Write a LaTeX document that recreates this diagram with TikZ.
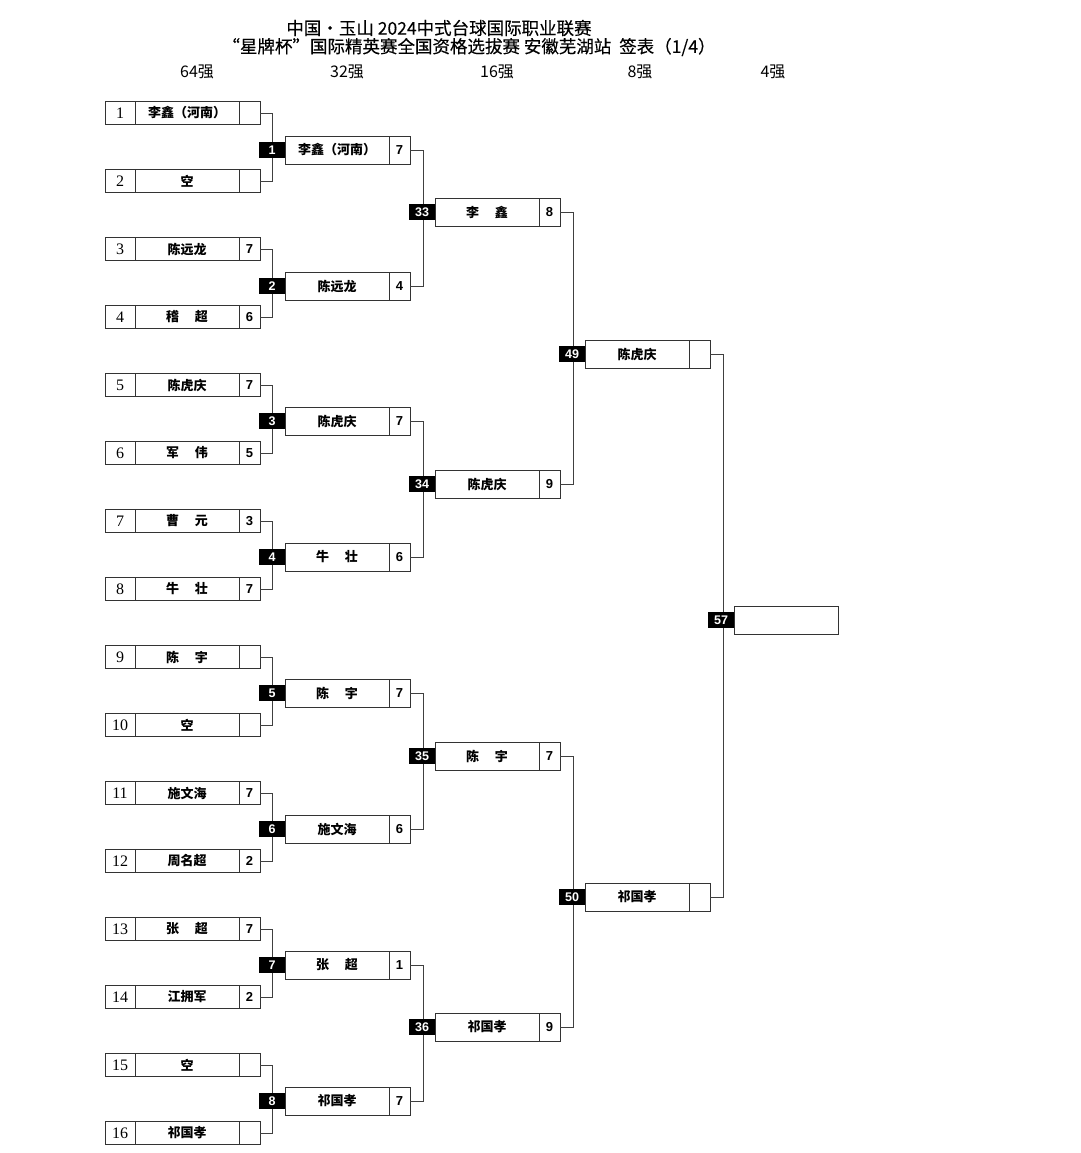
\documentclass[tikz,border=0pt]{standalone}
\usepackage{fontspec}
\setmainfont{Liberation Serif}
\newfontfamily\cjk{Noto Sans CJK SC}
\newfontfamily\cjkhead[FakeBold=0.3]{Noto Sans CJK SC}
\newfontfamily\scorefont{Liberation Sans}
\usetikzlibrary{positioning}
\newcommand{\namegap}{\hspace{1.2em}}

\begin{document}
\begin{tikzpicture}[
  x=1pt, y=-1pt,
  cell/.style={rectangle, draw=black!80, line width=0.9pt, inner sep=0pt,
               outer sep=0pt, minimum height=23pt, align=center},
  seed/.style={cell, minimum width=30pt, font=\fontsize{16}{16}\selectfont},
  player/.style={cell, minimum width=104pt,
                 font=\cjk\bfseries\fontsize{13}{13}\selectfont},
  pts/.style={cell, minimum width=21pt,
              font=\scorefont\bfseries\fontsize{13}{13}\selectfont},
  tall/.style={minimum height=28pt},
  matchno/.style={rectangle, fill=black, inner sep=0pt, outer sep=0pt,
                  minimum width=26pt, minimum height=16pt, text=white,
                  font=\scorefont\bfseries\fontsize{12.5}{12.5}\selectfont},
  colhead/.style={font=\cjk\fontsize{16}{16}\selectfont},
  heading/.style={font=\cjkhead\fontsize{17.5}{17.5}\selectfont},
  link/.style={draw=black!75, line width=0.8pt},
]
\useasboundingbox[fill=white] (0,0) rectangle (1080,1153);

% Title
\node[heading] (title1) at (439,28) {中国·玉山 2024中式台球国际职业联赛};
\node[heading] (title2) at (469,47) {“星牌杯”国际精英赛全国资格选拔赛 安徽芜湖站\ \ 签表（1/4）};

% Round heads
\node[colhead] (h64) at (197,72) {64强};
\node[colhead] (h32) at (347,72) {32强};
\node[colhead] (h16) at (497,72) {16强};
\node[colhead] (h8) at (640,72) {8强};
\node[colhead] (h4) at (773,72) {4强};

% 64 -> entries
\node[seed] (s1) at (120,113) {1};
\node[player, right=0pt of s1] (p1) {李鑫（河南）};
\node[pts, right=0pt of p1] (r1) {};
\node[seed] (s2) at (120,181) {2};
\node[player, right=0pt of s2] (p2) {空};
\node[pts, right=0pt of p2] (r2) {};
\node[seed] (s3) at (120,249) {3};
\node[player, right=0pt of s3] (p3) {陈远龙};
\node[pts, right=0pt of p3] (r3) {7};
\node[seed] (s4) at (120,317) {4};
\node[player, right=0pt of s4] (p4) {稽\namegap 超};
\node[pts, right=0pt of p4] (r4) {6};
\node[seed] (s5) at (120,385) {5};
\node[player, right=0pt of s5] (p5) {陈虎庆};
\node[pts, right=0pt of p5] (r5) {7};
\node[seed] (s6) at (120,453) {6};
\node[player, right=0pt of s6] (p6) {军\namegap 伟};
\node[pts, right=0pt of p6] (r6) {5};
\node[seed] (s7) at (120,521) {7};
\node[player, right=0pt of s7] (p7) {曹\namegap 元};
\node[pts, right=0pt of p7] (r7) {3};
\node[seed] (s8) at (120,589) {8};
\node[player, right=0pt of s8] (p8) {牛\namegap 壮};
\node[pts, right=0pt of p8] (r8) {7};
\node[seed] (s9) at (120,657) {9};
\node[player, right=0pt of s9] (p9) {陈\namegap 宇};
\node[pts, right=0pt of p9] (r9) {};
\node[seed] (s10) at (120,725) {10};
\node[player, right=0pt of s10] (p10) {空};
\node[pts, right=0pt of p10] (r10) {};
\node[seed] (s11) at (120,793) {11};
\node[player, right=0pt of s11] (p11) {施文海};
\node[pts, right=0pt of p11] (r11) {7};
\node[seed] (s12) at (120,861) {12};
\node[player, right=0pt of s12] (p12) {周名超};
\node[pts, right=0pt of p12] (r12) {2};
\node[seed] (s13) at (120,929) {13};
\node[player, right=0pt of s13] (p13) {张\namegap 超};
\node[pts, right=0pt of p13] (r13) {7};
\node[seed] (s14) at (120,997) {14};
\node[player, right=0pt of s14] (p14) {江拥军};
\node[pts, right=0pt of p14] (r14) {2};
\node[seed] (s15) at (120,1065) {15};
\node[player, right=0pt of s15] (p15) {空};
\node[pts, right=0pt of p15] (r15) {};
\node[seed] (s16) at (120,1133) {16};
\node[player, right=0pt of s16] (p16) {祁国孝};
\node[pts, right=0pt of p16] (r16) {};

% 32 -> winners
\node[player, tall] (q1) at (337,150) {李鑫（河南）};
\node[pts, tall, right=0pt of q1] (t1) {7};
\node[player, tall] (q2) at (337,286) {陈远龙};
\node[pts, tall, right=0pt of q2] (t2) {4};
\node[player, tall] (q3) at (337,421) {陈虎庆};
\node[pts, tall, right=0pt of q3] (t3) {7};
\node[player, tall] (q4) at (337,557) {牛\namegap 壮};
\node[pts, tall, right=0pt of q4] (t4) {6};
\node[player, tall] (q5) at (337,693) {陈\namegap 宇};
\node[pts, tall, right=0pt of q5] (t5) {7};
\node[player, tall] (q6) at (337,829) {施文海};
\node[pts, tall, right=0pt of q6] (t6) {6};
\node[player, tall] (q7) at (337,965) {张\namegap 超};
\node[pts, tall, right=0pt of q7] (t7) {1};
\node[player, tall] (q8) at (337,1101) {祁国孝};
\node[pts, tall, right=0pt of q8] (t8) {7};

% 16 -> winners
\node[player, tall] (u1) at (487,212) {李\namegap 鑫};
\node[pts, tall, right=0pt of u1] (v1) {8};
\node[player, tall] (u2) at (487,484) {陈虎庆};
\node[pts, tall, right=0pt of u2] (v2) {9};
\node[player, tall] (u3) at (487,756) {陈\namegap 宇};
\node[pts, tall, right=0pt of u3] (v3) {7};
\node[player, tall] (u4) at (487,1027) {祁国孝};
\node[pts, tall, right=0pt of u4] (v4) {9};

% 8 -> winners
\node[player, tall] (e1) at (637,354) {陈虎庆};
\node[pts, tall, right=0pt of e1] (f1) {};
\node[player, tall] (e2) at (637,897) {祁国孝};
\node[pts, tall, right=0pt of e2] (f2) {};

% 4 -> slot
\node[player, tall] (last) at (786,620) {};

% Links
\draw[link] (r1.east) -- ++(12,0) |- (r2.east);
\draw[link] (r3.east) -- ++(12,0) |- (r4.east);
\draw[link] (r5.east) -- ++(12,0) |- (r6.east);
\draw[link] (r7.east) -- ++(12,0) |- (r8.east);
\draw[link] (r9.east) -- ++(12,0) |- (r10.east);
\draw[link] (r11.east) -- ++(12,0) |- (r12.east);
\draw[link] (r13.east) -- ++(12,0) |- (r14.east);
\draw[link] (r15.east) -- ++(12,0) |- (r16.east);
\draw[link] (t1.east) -- ++(13,0) |- (t2.east);
\draw[link] (t3.east) -- ++(13,0) |- (t4.east);
\draw[link] (t5.east) -- ++(13,0) |- (t6.east);
\draw[link] (t7.east) -- ++(13,0) |- (t8.east);
\draw[link] (v1.east) -- ++(13,0) |- (v2.east);
\draw[link] (v3.east) -- ++(13,0) |- (v4.east);
\draw[link] (f1.east) -- ++(13,0) |- (f2.east);

% Match numbers
\node[matchno, left=0pt of q1] (m1) {1};
\node[matchno, left=0pt of q2] (m2) {2};
\node[matchno, left=0pt of q3] (m3) {3};
\node[matchno, left=0pt of q4] (m4) {4};
\node[matchno, left=0pt of q5] (m5) {5};
\node[matchno, left=0pt of q6] (m6) {6};
\node[matchno, left=0pt of q7] (m7) {7};
\node[matchno, left=0pt of q8] (m8) {8};
\node[matchno, left=0pt of u1] (m33) {33};
\node[matchno, left=0pt of u2] (m34) {34};
\node[matchno, left=0pt of u3] (m35) {35};
\node[matchno, left=0pt of u4] (m36) {36};
\node[matchno, left=0pt of e1] (m49) {49};
\node[matchno, left=0pt of e2] (m50) {50};
\node[matchno, left=0pt of last] (m57) {57};

\end{tikzpicture}
\end{document}
